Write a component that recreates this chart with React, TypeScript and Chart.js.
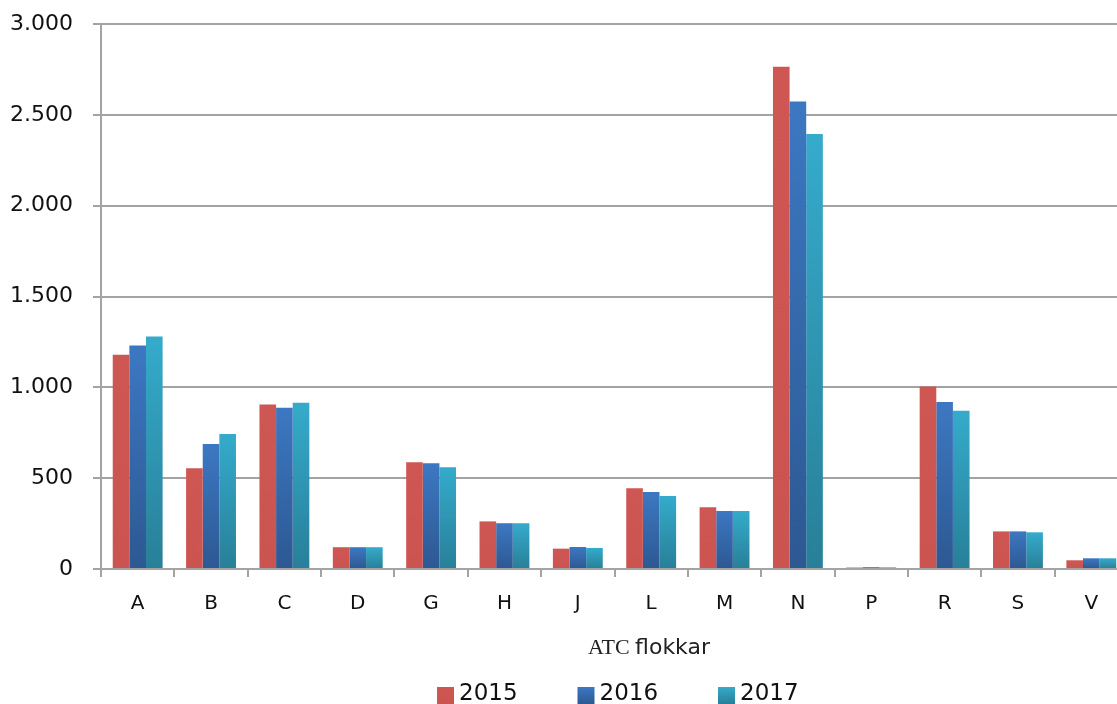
import React, { useEffect, useRef } from "react";
import { Chart, registerables } from "chart.js";

Chart.register(...registerables);

const categories = ["A", "B", "C", "D", "G", "H", "J", "L", "M", "N", "P", "R", "S", "V"];
const seriesNames = ["2015", "2016", "2017"];
const values2015 = [1180, 555, 905, 120, 587, 262, 112, 444, 340, 2765, 8, 1005, 207, 48];
const values2016 = [1230, 688, 888, 120, 582, 252, 121, 424, 319, 2573, 10, 919, 207, 59];
const values2017 = [1280, 743, 915, 120, 560, 252, 116, 402, 319, 2395, 9, 871, 202, 59];
const yTickValues = [0, 500, 1000, 1500, 2000, 2500, 3000];
const axisTitleParts = ["ATC", "flokkar"];

const colorTop = ["#CE5753", "#3C78C2", "#35ABCB"];
const colorBottom = ["#CC5450", "#2D5892", "#287F98"];

const fmt = (v: number) =>
  v >= 1000 ? `${Math.floor(v / 1000)}.${String(v % 1000).padStart(3, "0")}` : String(v);

const SANS = "'DejaVu Sans', sans-serif";
const GRID = "#A3A3A3";

function barGradient(i: number) {
  return (ctx: any) => {
    const chart = ctx.chart;
    const y = chart.scales?.y;
    if (!y || ctx.type !== "data") return colorTop[i];
    const v = ctx.parsed?.y ?? 0;
    const top = y.getPixelForValue(v);
    const bottom = y.getPixelForValue(0);
    if (!isFinite(top) || !isFinite(bottom) || bottom - top < 0.5) return colorTop[i];
    const g = chart.ctx.createLinearGradient(0, top, 0, bottom);
    g.addColorStop(0, colorTop[i]);
    g.addColorStop(1, colorBottom[i]);
    return g;
  };
}

const extrasPlugin = {
  id: "extras",
  afterDraw(chart: any) {
    const { ctx, chartArea } = chart;
    ctx.save();
    // axis title, mixed fonts
    const baseY = chartArea.bottom + 85;
    ctx.textBaseline = "alphabetic";
    ctx.textAlign = "left";
    ctx.fillStyle = "#222222";
    ctx.font = "22px 'Liberation Serif', serif";
    const w1 = ctx.measureText(axisTitleParts[0] + " ").width;
    ctx.font = `22px ${SANS}`;
    const w2 = ctx.measureText(axisTitleParts[1]).width;
    const cx = chartArea.left + 548;
    let x = cx - (w1 + w2) / 2;
    ctx.font = "22px 'Liberation Serif', serif";
    ctx.fillText(axisTitleParts[0] + " ", x, baseY);
    ctx.font = `22px ${SANS}`;
    ctx.fillText(axisTitleParts[1], x + w1, baseY);

    // legend
    const lx0 = chartArea.left + 336;
    const step = 140.5;
    const boxTop = chartArea.bottom + 118;
    ctx.font = `23px ${SANS}`;
    ctx.fillStyle = "#111111";
    seriesNames.forEach((name, i) => {
      const bx = lx0 + i * step;
      const g = ctx.createLinearGradient(0, boxTop, 0, boxTop + 17);
      g.addColorStop(0, colorTop[i]);
      g.addColorStop(1, colorBottom[i]);
      ctx.fillStyle = g;
      ctx.fillRect(bx, boxTop, 17, 17);
      ctx.fillStyle = "#111111";
      ctx.fillText(name, bx + 22, chartArea.bottom + 131);
    });
    ctx.restore();
  },
};

export default function App() {
  const ref = useRef<HTMLCanvasElement | null>(null);
  useEffect(() => {
    if (!ref.current) return;
    const chart = new Chart(ref.current, {
      type: "bar",
      data: {
        labels: categories,
        datasets: [values2015, values2016, values2017].map((d, i) => ({
          label: seriesNames[i],
          data: d,
          backgroundColor: barGradient(i),
          borderWidth: 0,
          barPercentage: 1,
          categoryPercentage: 0.68,
        })),
      },
      options: {
        animation: false,
        responsive: false,
        maintainAspectRatio: false,
        layout: { padding: { top: 24, left: 0, right: 0, bottom: 0 } },
        plugins: {
          legend: { display: false },
          tooltip: { enabled: false },
          title: { display: false },
        },
        scales: {
          x: {
            grid: {
              display: true,
              drawOnChartArea: false,
              drawTicks: true,
              tickLength: 8,
              offset: true,
              color: GRID,
              lineWidth: 2,
            },
            border: { display: true, color: GRID, width: 2 },
            ticks: {
              font: { family: SANS, size: 20 },
              color: "#111111",
              padding: 15,
              maxRotation: 0,
              autoSkip: false,
            },
            afterFit: (s: any) => {
              s.height = 135;
              s.paddingLeft = 0;
              s.paddingRight = 0;
            },
          },
          y: {
            min: 0,
            max: 3000,
            afterBuildTicks: (s: any) => {
              s.ticks = yTickValues.map((v) => ({ value: v }));
            },
            grid: {
              color: GRID,
              lineWidth: 2,
              drawTicks: true,
              tickLength: 8,
            },
            border: { display: true, color: GRID, width: 2 },
            ticks: {
              font: { family: SANS, size: 22 },
              color: "#111111",
              padding: 20,
              callback: (v: any) => fmt(Number(v)),
            },
            afterFit: (s: any) => {
              s.width = 101;
              s.paddingTop = 0;
              s.paddingBottom = 0;
            },
          },
        },
      },
      plugins: [extrasPlugin],
    });
    return () => chart.destroy();
  }, []);

  return (
    <div
      style={{
        position: "absolute",
        left: 0,
        top: 0,
        width: 1117,
        height: 704,
        overflow: "hidden",
        background: "#ffffff",
      }}
    >
      <canvas ref={ref} width={1128} height={704} style={{ display: "block", width: 1128, height: 704 }} />
    </div>
  );
}
